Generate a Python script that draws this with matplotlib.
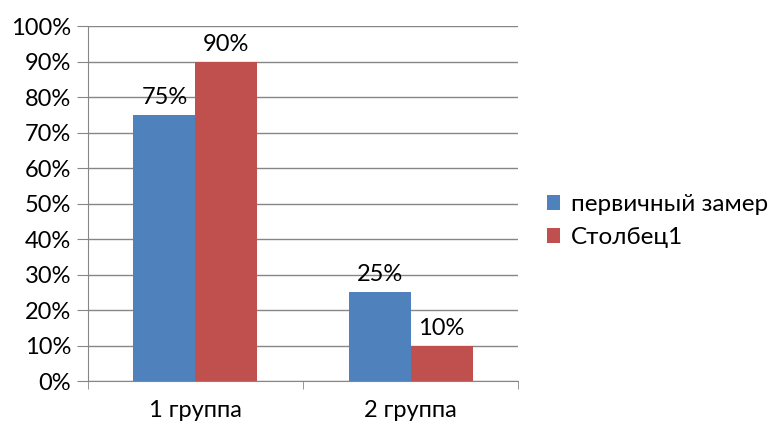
import matplotlib.pyplot as plt
import numpy as np

plt.rcParams['font.family'] = ['Lato', 'DejaVu Sans']

categories = ["1 группа", "2 группа"]
series_names = ["первичный замер", "Столбец1"]
primary = [75, 25]
column1 = [90, 10]
colors = ["#4F81BD", "#C0504D"]

fig = plt.figure(figsize=(7.71, 4.25), dpi=100)
ax = fig.add_axes([0.114, 0.1035, 0.558, 0.8353])

x = np.arange(len(categories))
w = 0.288
b1 = ax.bar(x - w / 2, primary, w, color=colors[0], label=series_names[0], zorder=3)
b2 = ax.bar(x + w / 2, column1, w, color=colors[1], label=series_names[1], zorder=3)

fs = 17
for bars, vals in ((b1, primary), (b2, column1)):
    for r, v in zip(bars, vals):
        ax.annotate(f"{v}%", (r.get_x() + r.get_width() / 2, v), xytext=(0, 5),
                    textcoords="offset points", ha="center", va="bottom", fontsize=fs)

ax.set_xlim(-0.5, 1.5)
ax.set_ylim(0, 100)
ax.set_yticks(range(0, 101, 10))
ax.set_yticklabels([f"{v}%" for v in range(0, 101, 10)], fontsize=fs)
ax.set_xticks(x)
ax.set_xticklabels(categories, fontsize=fs)
ax.set_xticks([-0.5, 0.5, 1.5], minor=True)
ax.tick_params(axis="x", which="major", length=0, pad=14)
ax.tick_params(axis="x", which="minor", length=6, color="#868686")
ax.tick_params(axis="y", length=8, color="#868686", pad=4)

ax.grid(axis="y", color="#868686", linewidth=1, zorder=0)
for s in ("top", "right"):
    ax.spines[s].set_visible(False)
for s in ("left", "bottom"):
    ax.spines[s].set_color("#868686")

ax.legend(loc="center left", bbox_to_anchor=(1.044, 0.45), frameon=False, fontsize=17.5,
          handlelength=0.55, handleheight=0.55, handletextpad=0.45, labelspacing=0.5,
          borderaxespad=0)

fig.savefig("out.png", dpi=100)
